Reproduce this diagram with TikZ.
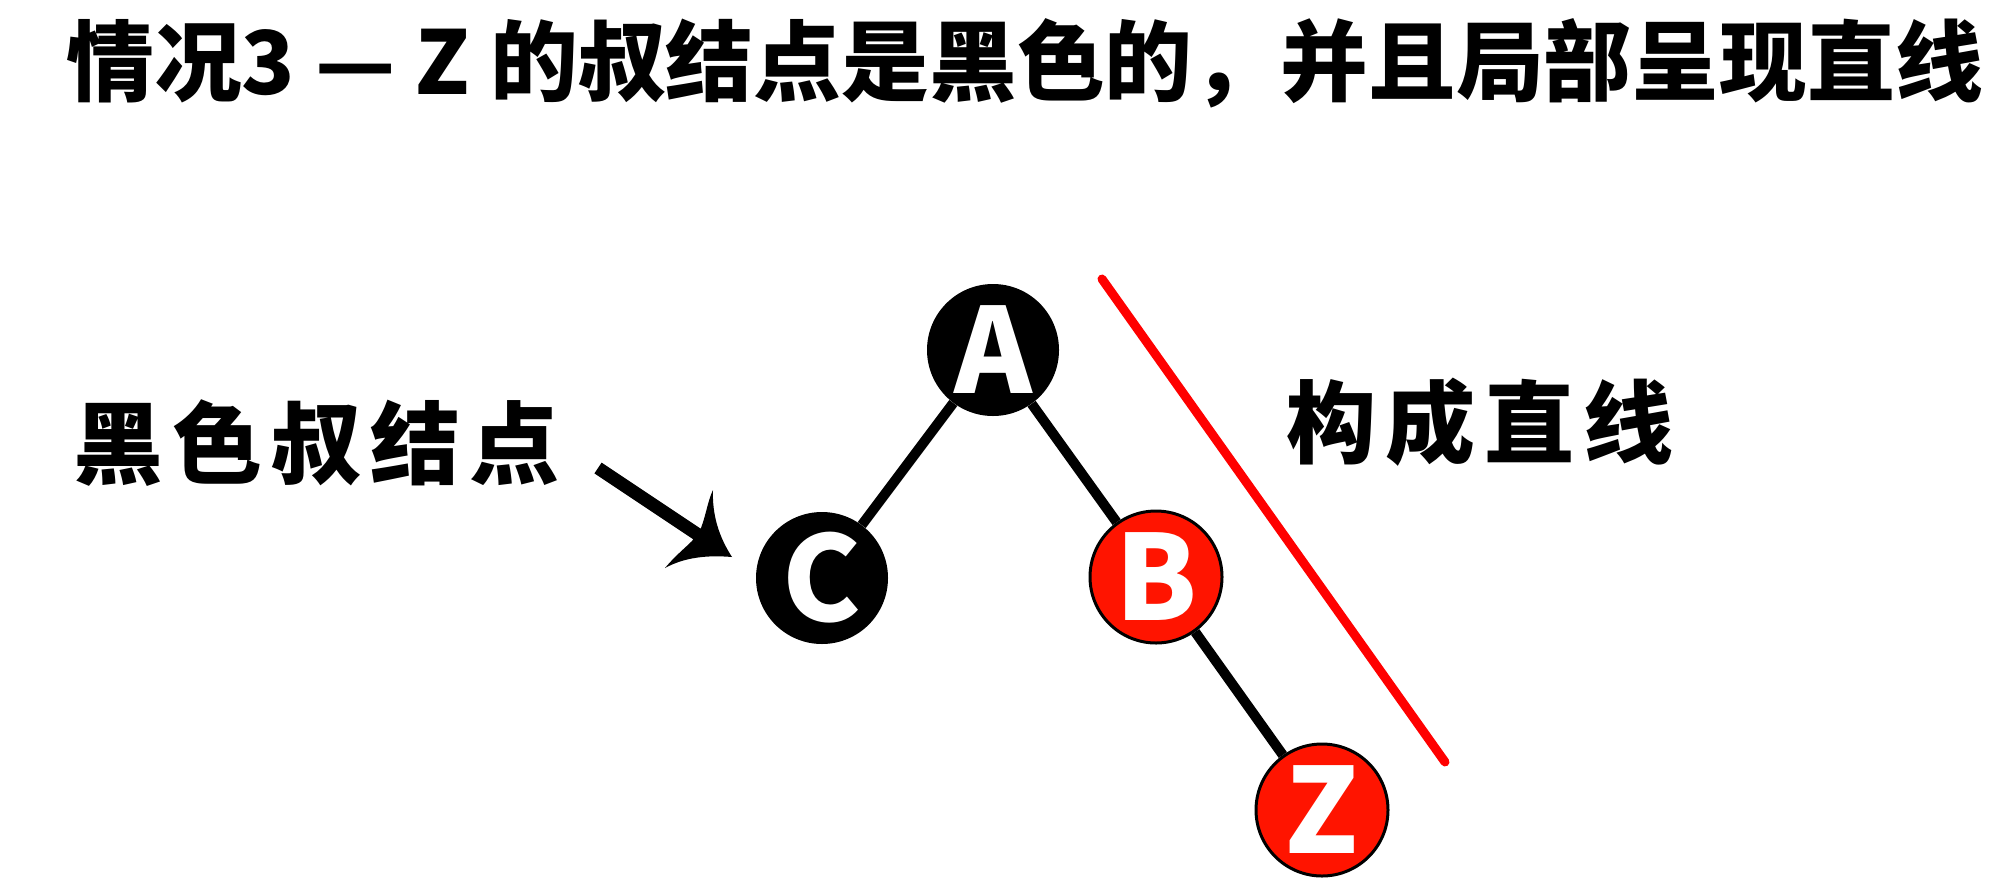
\documentclass[tikz,border=0pt]{standalone}
\usepackage{fontspec}
\newfontfamily\cjk{Noto Sans CJK SC}
\definecolor{nodered}{RGB}{255,20,0}
\definecolor{linered}{RGB}{255,0,0}
\newcommand{\csp}{\hspace{9pt}}
\begin{document}
\begin{tikzpicture}[x=1pt,y=-1pt,
  treenode/.style={circle,minimum size=132pt,inner sep=0pt,text=white,
    font=\cjk\bfseries\fontsize{118}{120}\selectfont},
  blacknode/.style={treenode,fill=black},
  rednode/.style={treenode,fill=nodered,draw=black,line width=3pt},
  edge/.style={line width=10pt,black},
  title/.style={anchor=base west,inner sep=0pt,font=\cjk\bfseries\fontsize{87.8}{100}\selectfont},
  label/.style={anchor=base west,inner sep=0pt,font=\cjk\bfseries\fontsize{90}{100}\selectfont}]
\useasboundingbox (0,0) rectangle (2005,887);
\fill[white] (0,0) rectangle (2005,887);

\node[title] (t) at (66,94) {情况3 — Z 的叔结点是黑色的，并且局部呈现直线};

\node[blacknode] (A) at (993,350) {A};
\node[blacknode] (C) at (822,578) {C};
\node[rednode] (B) at (1156,577) {B};
\node[rednode] (Z) at (1322,810) {Z};

\draw[edge] (A) -- (C);
\draw[edge] (A) -- (B);
\draw[edge] (B) -- (Z);

\node[label] (l1) at (73,477) {黑\csp 色\csp 叔\csp 结\csp 点};
\node[label] (l2) at (1286,456) {构\csp 成\csp 直\csp 线};

\coordinate (r1) at (1102,279);
\coordinate (r2) at (1445,762);
\draw[linered,line width=9pt,line cap=round] (r1) -- (r2);

\coordinate (s0) at (598,468);
\coordinate (s1) at (700,536);
\draw[line width=13pt] (s0) -- (s1);
\coordinate (tip) at (732,557);
\coordinate (ub) at (713,490);
\coordinate (uj) at (701,528);
\coordinate (lj) at (692,541);
\coordinate (lb) at (665,568);
\fill (ub) .. controls (712,515) and (719,537) .. (tip)
  .. controls (708,555) and (685,557) .. (lb)
  .. controls (675,556) and (685,548) .. (lj)
  -- (uj)
  .. controls (706,515) and (708,500) .. (ub) -- cycle;
\end{tikzpicture}
\end{document}
